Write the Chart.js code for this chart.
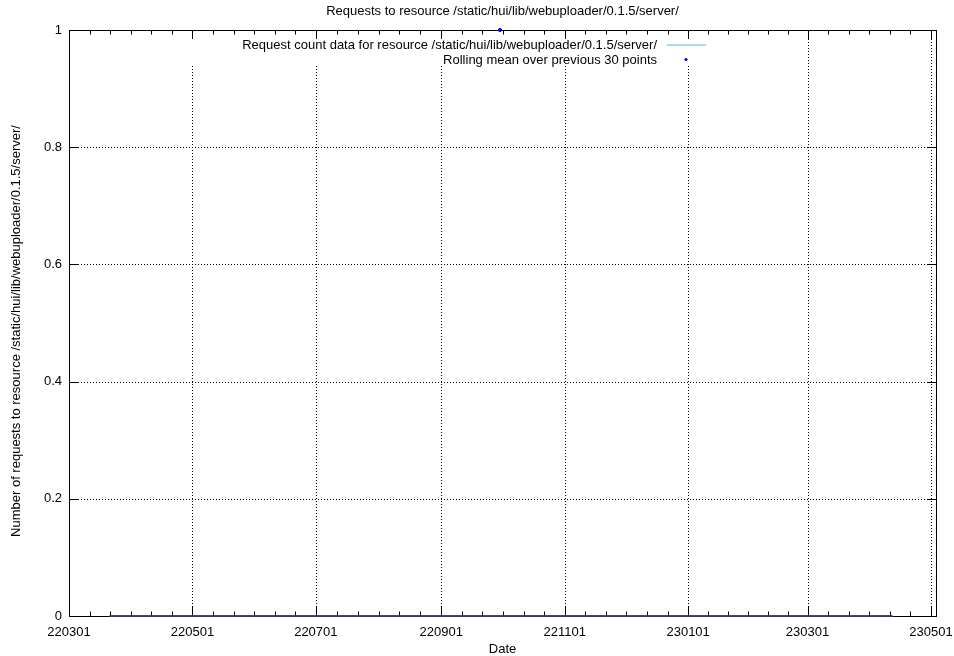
<!DOCTYPE html>
<html>
<head>
<meta charset="utf-8">
<script src="https://cdn.jsdelivr.net/npm/chart.js@4"></script>
<style>
  html, body { margin: 0; padding: 0; background: #fff; }
  canvas { display: block; }
</style>
</head>
<body>
<canvas id="grafico" width="954" height="656"></canvas>
<script>
const titulo = "Requests to resource /static/hui/lib/webuploader/0.1.5/server/";
const rotuloX = "Date";
const rotuloY = "Number of requests to resource /static/hui/lib/webuploader/0.1.5/server/";
const legendaContagem = "Request count data for resource /static/hui/lib/webuploader/0.1.5/server/";
const legendaMedia = "Rolling mean over previous 30 points";

// ticks do eixo x (primeiro dia de cada dois meses) e do eixo y
const tickDates = ["2022-03-01", "2022-05-01", "2022-07-01", "2022-09-01", "2022-11-01", "2023-01-01", "2023-03-01", "2023-05-01"];
const yTicks = [0, 0.2, 0.4, 0.6, 0.8, 1];

// dados
const countDates = ["2022-03-21", "2023-04-12"];
const counts = [0, 0];
const meanDates = ["2022-03-21", "2023-04-12"];
const meanValues = [0, 0];
const peakDates = ["2022-09-30"];
const peakValues = [1];

const day = s => Date.UTC(+s.slice(0, 4), +s.slice(5, 7) - 1, +s.slice(8, 10)) / 864e5;
const yymmdd = d => {
  const t = new Date(d * 864e5);
  const p = n => String(n).padStart(2, "0");
  return p(t.getUTCFullYear() % 100) + p(t.getUTCMonth() + 1) + p(t.getUTCDate());
};
const pontos = (datas, valores) => datas.map((d, i) => ({ x: day(d), y: valores[i] }));

const FONTE = '13px "Liberation Sans", Arial, sans-serif';
const AZUL_CLARO = "#8ecdf0";
const AZUL = "#0000e0";

function linha(ctx, x1, y1, x2, y2) {
  ctx.beginPath();
  ctx.moveTo(x1, y1);
  ctx.lineTo(x2, y2);
  ctx.stroke();
}

// moldura estilo gnuplot: grade pontilhada, borda e ticks
const moldura = {
  id: "moldura",
  beforeDatasetsDraw(chart) {
    const { ctx, chartArea: a, scales: { x, y } } = chart;
    ctx.save();
    ctx.strokeStyle = "#000";
    ctx.lineWidth = 1;

    ctx.setLineDash([1, 2]);
    tickDates.forEach(d => {
      const px = Math.round(x.getPixelForValue(day(d))) + 0.5;
      linha(ctx, px, a.top, px, a.bottom);
    });
    yTicks.forEach(v => {
      const py = Math.round(y.getPixelForValue(v)) + 0.5;
      linha(ctx, a.left, py, a.right, py);
    });
    ctx.setLineDash([]);

    // fundo da legenda
    ctx.fillStyle = "#fff";
    ctx.fillRect(150, a.top + 1, 562, 34);

    ctx.strokeRect(a.left + 0.5, a.top + 0.5, a.right - a.left, a.bottom - a.top);

    // ticks x (principais e secundários), espelhados em cima
    const xs = tickDates.map(day);
    xs.forEach((v, i) => {
      const px = Math.round(x.getPixelForValue(v)) + 0.5;
      linha(ctx, px, a.bottom, px, a.bottom - 9);
      linha(ctx, px, a.top, px, a.top + 9);
      if (i < xs.length - 1) {
        for (let k = 1; k < 6; k++) {
          const m = Math.round(x.getPixelForValue(v + (xs[i + 1] - v) * k / 6)) + 0.5;
          linha(ctx, m, a.bottom, m, a.bottom - 4.5);
          linha(ctx, m, a.top, m, a.top + 4.5);
        }
      }
    });
    yTicks.forEach(v => {
      const py = Math.round(y.getPixelForValue(v)) + 0.5;
      linha(ctx, a.left, py, a.left + 9, py);
      linha(ctx, a.right, py, a.right - 9, py);
    });
    ctx.restore();
  },
  afterDatasetsDraw(chart) {
    const { ctx, chartArea: a, scales: { x, y } } = chart;
    ctx.save();
    ctx.font = FONTE;
    ctx.fillStyle = "#000";

    ctx.textAlign = "center";
    ctx.textBaseline = "middle";
    ctx.fillText(titulo, (a.left + a.right) / 2, 11);
    tickDates.forEach(d => ctx.fillText(yymmdd(day(d)), x.getPixelForValue(day(d)), 632));
    ctx.fillText(rotuloX, (a.left + a.right) / 2, 649);

    ctx.textAlign = "right";
    yTicks.forEach(v => ctx.fillText(String(v), 62, y.getPixelForValue(v)));

    // legenda
    ctx.fillText(legendaContagem, 657, 45);
    ctx.fillText(legendaMedia, 657, 60);
    ctx.strokeStyle = AZUL_CLARO;
    ctx.lineWidth = 1.5;
    linha(ctx, 667, 45, 706, 45);
    ctx.fillStyle = AZUL;
    ctx.beginPath();
    ctx.arc(686, 59.5, 1.6, 0, Math.PI * 2);
    ctx.fill();

    ctx.fillStyle = "#000";
    ctx.translate(16, (a.top + a.bottom) / 2 + 8);
    ctx.rotate(-Math.PI / 2);
    ctx.textAlign = "center";
    ctx.fillText(rotuloY, 0, 0);
    ctx.restore();
  }
};

new Chart(document.getElementById("grafico"), {
  type: "scatter",
  data: {
    datasets: [
      {
        label: legendaMedia,
        data: pontos(peakDates, peakValues),
        backgroundColor: AZUL,
        borderColor: AZUL,
        pointRadius: 1.6,
        clip: false
      },
      {
        label: legendaMedia,
        data: pontos(meanDates, meanValues),
        showLine: true,
        borderColor: "#2c0f5a",
        borderWidth: 1.5,
        pointRadius: 0,
        clip: false
      },
      {
        label: legendaContagem,
        data: pontos(countDates, counts),
        showLine: true,
        borderColor: AZUL_CLARO,
        borderWidth: 1.5,
        pointRadius: 0,
        clip: false
      }
    ]
  },
  plugins: [moldura],
  options: {
    responsive: false,
    devicePixelRatio: 1,
    animation: false,
    layout: { padding: { left: 69, top: 30, right: 18, bottom: 40 } },
    scales: {
      x: { type: "linear", display: false, min: day("2022-03-01"), max: day("2023-05-03") + 0.5 },
      y: { type: "linear", display: false, min: 0, max: 1 }
    },
    plugins: {
      legend: { display: false },
      tooltip: { enabled: false }
    }
  }
});
</script>
</body>
</html>
